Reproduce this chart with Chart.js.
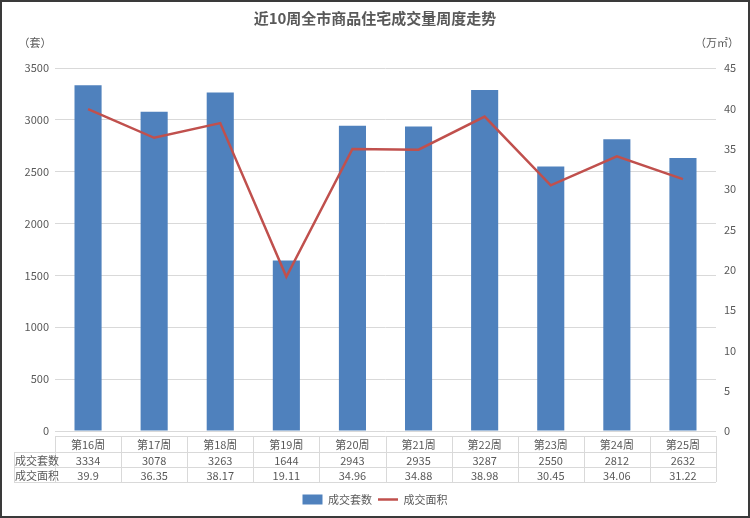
<!DOCTYPE html>
<html>
<head>
<meta charset="utf-8">
<script src="https://cdn.jsdelivr.net/npm/chart.js@4.4.0/dist/chart.umd.min.js"></script>
<style>
  html, body { margin: 0; padding: 0; background: #fff; }
  #wrap { width: 750px; height: 518px; box-sizing: border-box; border: 2px solid #3a3a3a; }
</style>
</head>
<body>
<div id="wrap"><canvas id="myChart" width="746" height="514"></canvas></div>
<script>
let weeks = ['第16周', '第17周', '第18周', '第19周', '第20周', '第21周', '第22周', '第23周', '第24周', '第25周'];
let units = [3334, 3078, 3263, 1644, 2943, 2935, 3287, 2550, 2812, 2632];
let areas = [39.9, 36.35, 38.17, 19.11, 34.96, 34.88, 38.98, 30.45, 34.06, 31.22];
let rowNames = ['成交套数', '成交面积'];

let fontFamily = '"Microsoft YaHei", "Noto Sans CJK SC", sans-serif';
let textColor = '#595959';
let lineGrid = '#d9d9d9';

// title, unit labels and the data table under the x axis
let extras = {
  id: 'extras',
  afterDraw: (chart) => {
    let ctx = chart.ctx;
    let area = chart.chartArea;
    let x = chart.scales.x;
    ctx.save();
    ctx.fillStyle = textColor;
    ctx.textAlign = 'center';
    ctx.textBaseline = 'middle';
    ctx.font = 'bold 15px ' + fontFamily;
    ctx.fillText('近10周全市商品住宅成交量周度走势', chart.width / 2, 16);
    ctx.font = '11px ' + fontFamily;
    ctx.fillText('（套）', 33, 41);
    ctx.fillText('（万㎡）', 715, 41);

    let colW = (area.right - area.left) / weeks.length;
    let top = area.bottom + 5;
    let rowH = [16, 15, 15];
    let y1 = top + rowH[0];
    let y2 = y1 + rowH[1];
    let y3 = y2 + rowH[2];
    let labelLeft = 12;

    ctx.strokeStyle = lineGrid;
    ctx.lineWidth = 1;
    ctx.beginPath();
    // horizontal lines
    ctx.moveTo(area.left, top + 0.5); ctx.lineTo(area.right, top + 0.5);
    ctx.moveTo(labelLeft, y1 + 0.5); ctx.lineTo(area.right, y1 + 0.5);
    ctx.moveTo(labelLeft, y2 + 0.5); ctx.lineTo(area.right, y2 + 0.5);
    ctx.moveTo(labelLeft, y3 + 0.5); ctx.lineTo(area.right, y3 + 0.5);
    // vertical lines
    ctx.moveTo(labelLeft + 0.5, y1); ctx.lineTo(labelLeft + 0.5, y3);
    for (let i = 0; i <= weeks.length; i++) {
      let px = Math.round(x.getPixelForValue(i) - colW / 2) + 0.5;
      ctx.moveTo(px, top); ctx.lineTo(px, y3);
    }
    ctx.stroke();

    ctx.font = '11px ' + fontFamily;
    weeks.forEach((w, i) => {
      let cx = x.getPixelForValue(i);
      ctx.fillText(w, cx, (top + y1) / 2 + 1);
      ctx.fillText(String(units[i]), cx, (y1 + y2) / 2 + 1);
      ctx.fillText(String(areas[i]), cx, (y2 + y3) / 2 + 1);
    });
    ctx.textAlign = 'left';
    ctx.fillText(rowNames[0], labelLeft + 1, (y1 + y2) / 2 + 1);
    ctx.fillText(rowNames[1], labelLeft + 1, (y2 + y3) / 2 + 1);
    ctx.restore();
  }
};

let ctx = document.getElementById('myChart').getContext('2d');
let myChart = new Chart(ctx, {
  type: 'bar',
  data: {
    labels: weeks,
    datasets: [{
      type: 'line',
      label: rowNames[1],
      data: areas,
      yAxisID: 'y1',
      borderColor: '#c0504d',
      backgroundColor: '#c0504d',
      borderWidth: 2.5,
      pointRadius: 0,
      pointStyle: 'line',
      tension: 0,
      order: 1
    }, {
      label: rowNames[0],
      data: units,
      yAxisID: 'y',
      backgroundColor: '#4f81bd',
      borderColor: '#4f81bd',
      borderWidth: 0,
      pointStyle: 'rect',
      categoryPercentage: 1,
      barPercentage: 0.41,
      order: 2
    }]
  },
  options: {
    responsive: false,
    animation: false,
    layout: {
      padding: { top: 66, left: 0, right: 0, bottom: 1 }
    },
    scales: {
      x: {
        offset: true,
        grid: { display: false },
        border: { display: false },
        ticks: { display: false },
        afterFit: (scale) => { scale.height = 57; }
      },
      y: {
        position: 'left',
        min: 0,
        max: 3500,
        ticks: {
          stepSize: 500,
          color: textColor,
          padding: 6,
          font: { family: fontFamily, size: 11 },
          callback: (value) => String(value)
        },
        grid: { color: lineGrid, drawTicks: false },
        border: { display: false },
        afterFit: (scale) => { scale.width = 53; }
      },
      y1: {
        position: 'right',
        min: 0,
        max: 45,
        ticks: {
          stepSize: 5,
          color: textColor,
          padding: 8,
          font: { family: fontFamily, size: 11 },
          callback: (value) => String(value)
        },
        grid: { display: false, drawTicks: false },
        border: { display: false },
        afterFit: (scale) => { scale.width = 32; }
      }
    },
    plugins: {
      legend: {
        position: 'bottom',
        reverse: true,
        labels: {
          usePointStyle: true,
          pointStyleWidth: 20,
          boxHeight: 10,
          padding: 6,
          color: textColor,
          font: { family: fontFamily, size: 11 }
        }
      },
      tooltip: { enabled: false }
    }
  },
  plugins: [extras]
});
</script>
</body>
</html>
